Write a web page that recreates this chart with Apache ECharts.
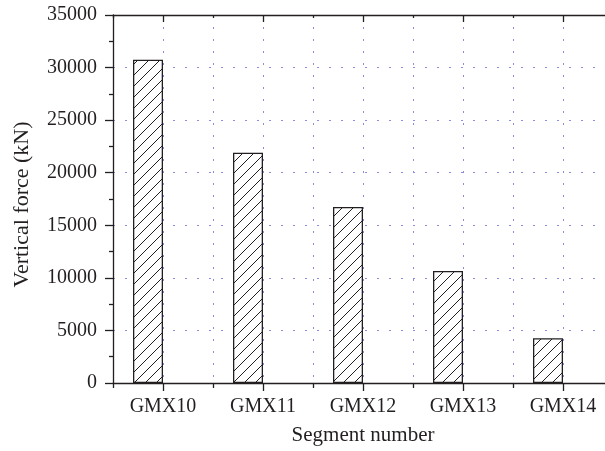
<!DOCTYPE html>
<html>
<head>
<meta charset="utf-8">
<script src="https://cdn.jsdelivr.net/npm/echarts@6/dist/echarts.min.js"></script>
<style>
  html, body { margin: 0; padding: 0; background: #fff; }
  #chart { width: 605px; height: 451px; }
</style>
</head>
<body>
<div id="chart"></div>
<script>
// Vertical force carried by each segment
const segments = ['GMX10', 'GMX11', 'GMX12', 'GMX13', 'GMX14'];
const verticalForce = [30750, 21900, 16750, 10650, 4250];
const yTicks = { min: 0, max: 35000, step: 5000 };

const FONT = 'Liberation Serif';
const INK = '#231f20';
const GRID_DOT = '#8c8cdc';

// Diagonal hatch fill for the bars
function hatchPattern() {
  const s = 11;
  const c = document.createElement('canvas');
  c.width = s; c.height = s;
  const g = c.getContext('2d');
  g.fillStyle = '#fff';
  g.fillRect(0, 0, s, s);
  g.strokeStyle = INK;
  g.lineWidth = 1;
  g.beginPath();
  g.moveTo(-1, s + 1); g.lineTo(s + 1, -1);
  g.moveTo(-1, 1); g.lineTo(1, -1);
  g.moveTo(s - 1, s + 1); g.lineTo(s + 1, s - 1);
  g.stroke();
  return c;
}

const chart = echarts.init(document.getElementById('chart'), null, { renderer: 'canvas' });

const dotted = { color: GRID_DOT, width: 1, type: [2, 10] };

chart.setOption({
  animation: false,
  backgroundColor: '#fff',
  grid: { left: 113, width: 500, top: 15, bottom: 68, containLabel: false, outerBoundsMode: 'none' },
  xAxis: [
    {
      // main category axis: labels, short boundary ticks
      type: 'category', data: segments, position: 'bottom',
      name: 'Segment number', nameLocation: 'middle', nameGap: 42,
      nameTextStyle: { fontFamily: FONT, fontSize: 21, color: INK },
      axisLine: { lineStyle: { color: INK, width: 1.3 } },
      axisTick: { show: true, inside: false, length: 5, lineStyle: { color: INK, width: 1.3 } },
      axisLabel: { fontFamily: FONT, fontSize: 20, color: INK, margin: 14 },
      splitLine: { show: false }
    },
    {
      // long ticks at category centres
      type: 'category', data: segments, position: 'bottom',
      axisLine: { show: false },
      axisTick: { show: true, alignWithLabel: true, inside: false, length: 8, lineStyle: { color: INK, width: 1.3 } },
      axisLabel: { show: false }, splitLine: { show: false }
    },
    {
      // mirrored top axis with inward ticks
      type: 'category', data: segments, position: 'top',
      axisLine: { lineStyle: { color: INK, width: 1.3 } },
      axisTick: { show: true, inside: true, length: 3, lineStyle: { color: INK, width: 1.3 } },
      axisLabel: { show: false }, splitLine: { show: false }
    },
    {
      type: 'category', data: segments, position: 'top',
      axisLine: { show: false },
      axisTick: { show: true, alignWithLabel: true, inside: true, length: 7, lineStyle: { color: INK, width: 1.3 } },
      axisLabel: { show: false }, splitLine: { show: false }
    },
    {
      // dotted vertical grid every half category
      type: 'value', min: 0, max: 10, interval: 1, position: 'bottom',
      axisLine: { show: false }, axisTick: { show: false }, axisLabel: { show: false },
      splitLine: { show: true, lineStyle: dotted }
    }
  ],
  yAxis: [
    {
      type: 'value', min: yTicks.min, max: yTicks.max, interval: yTicks.step,
      name: 'Vertical force (kN)', nameLocation: 'middle', nameGap: 80, nameRotate: 90,
      nameTextStyle: { fontFamily: FONT, fontSize: 22, color: INK, padding: [0, 11, 0, 0] },
      axisLine: { show: true, lineStyle: { color: INK, width: 1.3 } },
      axisTick: { show: true, inside: false, length: 8, lineStyle: { color: INK, width: 1.3 } },
      minorTick: { show: true, splitNumber: 2, length: 4, lineStyle: { color: INK, width: 1.3 } },
      axisLabel: { fontFamily: FONT, fontSize: 20, color: INK, margin: 16, formatter: v => String(v) },
      splitLine: { show: true, lineStyle: dotted }
    }
  ],
  series: [
    {
      type: 'bar', xAxisIndex: 0, yAxisIndex: 0,
      data: verticalForce,
      barWidth: 30, barGap: '0%',
      itemStyle: {
        color: { image: hatchPattern(), repeat: 'repeat' },
        borderColor: INK, borderWidth: 1.3
      },
      z: 3
    },
    {
      // empty companion series keeps each bar left of its tick
      type: 'bar', xAxisIndex: 0, yAxisIndex: 0,
      data: segments.map(() => null),
      barWidth: 30, barGap: '0%'
    }
  ]
});
</script>
</body>
</html>
